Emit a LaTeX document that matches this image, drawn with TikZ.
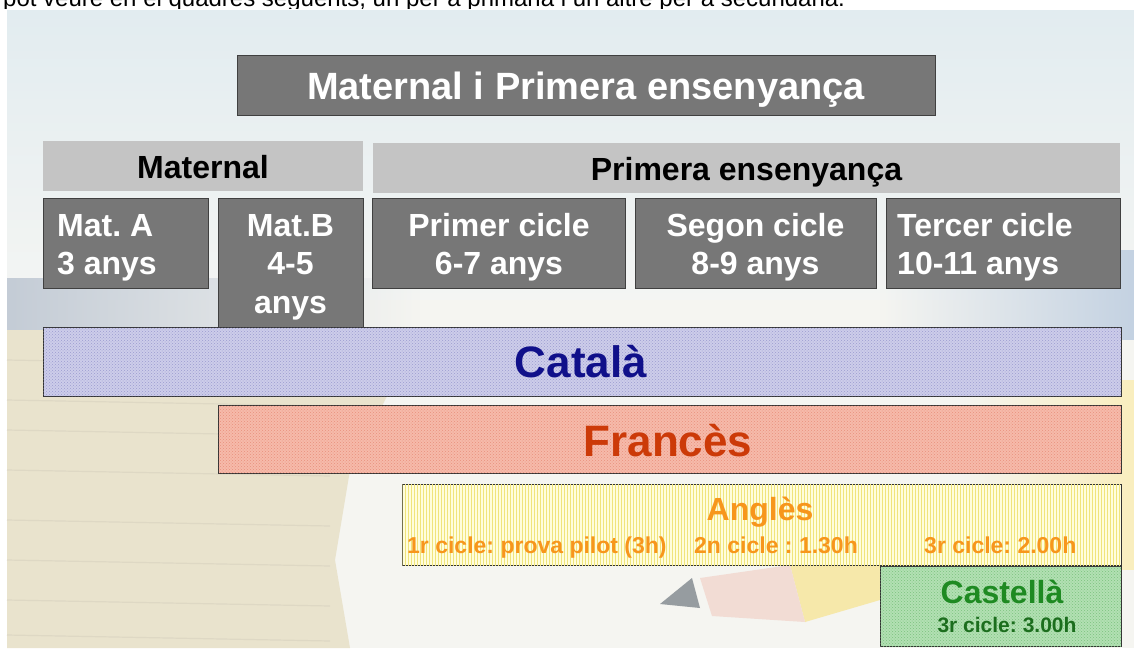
\documentclass[tikz,border=0pt]{standalone}
\usepackage{fontspec}
\setmainfont{Liberation Sans}
\usetikzlibrary{patterns,fadings}
\frenchspacing
\definecolor{boxgray}{HTML}{777777}
\definecolor{hdrgray}{HTML}{C4C4C4}
\definecolor{catfill}{HTML}{CDCDEA}
\definecolor{catdot}{HTML}{9C9CD0}
\definecolor{cattext}{HTML}{10108A}
\definecolor{frafill}{HTML}{F6BAAA}
\definecolor{fradot}{HTML}{E8907C}
\definecolor{fratext}{HTML}{CC3A08}
\definecolor{angfill}{HTML}{FFFDDC}
\definecolor{angline}{HTML}{F0E47C}
\definecolor{angtext}{HTML}{F7961C}
\definecolor{casfill}{HTML}{B2E0B3}
\definecolor{casdot}{HTML}{7CC27E}
\definecolor{castext}{HTML}{1E8A22}
\definecolor{cassub}{HTML}{1C6E1E}
\definecolor{bgtop}{RGB}{226,236,240}
\definecolor{bgmid}{RGB}{244,245,243}
\definecolor{bglow}{RGB}{245,245,241}
\definecolor{bookblue}{RGB}{196,204,214}
\definecolor{rightblue}{RGB}{196,210,226}
\definecolor{beige}{RGB}{233,227,205}
\definecolor{beigeline}{RGB}{222,216,196}
\definecolor{glowyel}{RGB}{250,238,190}
\definecolor{pencilyel}{RGB}{246,232,170}
\definecolor{pencilwood}{RGB}{242,220,212}
\definecolor{penciltip}{RGB}{150,156,160}
\tikzfading[name=fadeR, left color=transparent!0, right color=transparent!100]
\tikzfading[name=fadeL, left color=transparent!100, right color=transparent!0]
\tikzfading[name=fadeV, top color=transparent!100, bottom color=transparent!100, middle color=transparent!0]
\begin{document}
\begin{tikzpicture}[x=1pt,y=-1pt,
  darkbox/.style={draw=black!75,line width=0.8pt,fill=boxgray,inner sep=0,anchor=north west},
  hdrbox/.style={fill=hdrgray,inner sep=0,anchor=north west},
  bar/.style={draw=black!80,line width=1.1pt,inner sep=0,anchor=north west},
  wtxt/.style={text=white,inner sep=0,font=\fontsize{32}{38}\selectfont\bfseries},
  htxt/.style={text=black,inner sep=0,font=\fontsize{32}{38}\selectfont\bfseries,anchor=base},
  subtxt/.style={inner sep=0,font=\fontsize{23}{26}\selectfont\bfseries,anchor=base west,text=angtext}]
\useasboundingbox (0,0) rectangle (1134,648);
% page text above
\node[anchor=base west,inner sep=0,font=\fontsize{24}{28}\selectfont] (ptxt) at (3,6) {pot veure en el quadres següents, un per a primària i un altre per a secundària.};
% background photo
\fill[white] (0,9) rectangle (1134,648);
\shade[top color=bgtop,bottom color=bgmid] (7,10) rectangle (1134,300);
\fill[bglow] (7,300) rectangle (1134,648);
\fill[bookblue,path fading=fadeR] (7,278) rectangle (420,336);
\fill[rightblue,path fading=fadeL] (880,250) rectangle (1134,340);
\fill[beige] (7,330) -- (420,330) -- (350,470) -- (335,560) -- (350,648) -- (7,648) -- cycle;
\foreach \yy in {360,400,430,470,520,560,600,635}
  \draw[beigeline,line width=1.2pt] (7,\yy) -- (330,\yy+6);
\fill[glowyel,path fading=fadeL] (960,380) rectangle (1134,570);
% pencil
\fill[pencilyel] (790,565) -- (880,556) -- (880,600) -- (805,622) -- cycle;
\fill[pencilwood] (700,578) -- (790,565) -- (805,622) -- (712,616) -- cycle;
\fill[penciltip] (660,604) -- (692,578) -- (700,608) -- cycle;
% title
\node[darkbox,minimum width=698,minimum height=60] (title) at (237,55) {};
\node[text=white,inner sep=0,anchor=base,font=\fontsize{38}{44}\selectfont\bfseries] (titletxt) at (586,99) {Maternal i Primera ensenyança};
% headers
\node[hdrbox,minimum width=320,minimum height=50] (mathdr) at (43,141) {};
\node[htxt] (mathdrtxt) at (203,178) {Maternal};
\node[hdrbox,minimum width=747,minimum height=50] (prihdr) at (373,143) {};
\node[htxt] (prihdrtxt) at (746.5,180) {Primera ensenyança};
% stage boxes
\node[darkbox,minimum width=165,minimum height=90] (mata) at (43,198) {};
\node[darkbox,minimum width=145,minimum height=129] (matb) at (218,198) {};
\node[darkbox,minimum width=253,minimum height=90] (cic1) at (372,198) {};
\node[darkbox,minimum width=241,minimum height=90] (cic2) at (635,198) {};
\node[darkbox,minimum width=234,minimum height=90] (cic3) at (886,198) {};
\node[wtxt,anchor=base west] (mata1) at (57,236) {Mat. A};
\node[wtxt,anchor=base west] (mata2) at (57,274) {3 anys};
\node[wtxt,anchor=base] (matb1) at (290.5,236) {Mat.B};
\node[wtxt,anchor=base] (matb2) at (290.5,274) {4-5};
\node[wtxt,anchor=base] (matb3) at (290.5,313) {anys};
\node[wtxt,anchor=base] (cic1a) at (499,236) {Primer cicle};
\node[wtxt,anchor=base] (cic1b) at (499,274) {6-7 anys};
\node[wtxt,anchor=base] (cic2a) at (755.5,236) {Segon cicle};
\node[wtxt,anchor=base] (cic2b) at (755.5,274) {8-9 anys};
\node[wtxt,anchor=base west] (cic3a) at (897,236) {Tercer cicle};
\node[wtxt,anchor=base west] (cic3b) at (897,274) {10-11 anys};
% language bars
\node[bar,fill=catfill,postaction={pattern=crosshatch dots,pattern color=catdot},minimum width=1078,minimum height=69] (cat) at (43,327) {};
\node[text=cattext,inner sep=0,anchor=base,font=\fontsize{44}{50}\selectfont\bfseries] (cattxt) at (581,377) {Català};
\node[bar,fill=frafill,postaction={pattern=crosshatch dots,pattern color=fradot},minimum width=903,minimum height=68] (fra) at (218,405) {};
\node[text=fratext,inner sep=0,anchor=base,font=\fontsize{44}{50}\selectfont\bfseries] (fratxt) at (668,456) {Francès};
\node[bar,fill=angfill,postaction={pattern=vertical lines,pattern color=angline},minimum width=719,minimum height=81] (ang) at (402,484) {};
\node[text=angtext,inner sep=0,anchor=base,font=\fontsize{32}{38}\selectfont\bfseries] (angtxt) at (760,520) {Anglès};
\node[subtxt] (ang1) at (407,553) {1r cicle: prova pilot (3h)};
\node[subtxt] (ang2) at (694,553) {2n cicle : 1.30h};
\node[subtxt] (ang3) at (924,553) {3r cicle: 2.00h};
\node[bar,fill=casfill,postaction={pattern=crosshatch dots,pattern color=casdot},minimum width=241,minimum height=80] (cas) at (880,566) {};
\node[text=castext,inner sep=0,anchor=base,font=\fontsize{32}{38}\selectfont\bfseries] (castxt) at (1002,603) {Castellà};
\node[text=cassub,inner sep=0,anchor=base,font=\fontsize{21}{24}\selectfont\bfseries] (cassubtxt) at (1007,632) {3r cicle: 3.00h};
\end{tikzpicture}
\end{document}
